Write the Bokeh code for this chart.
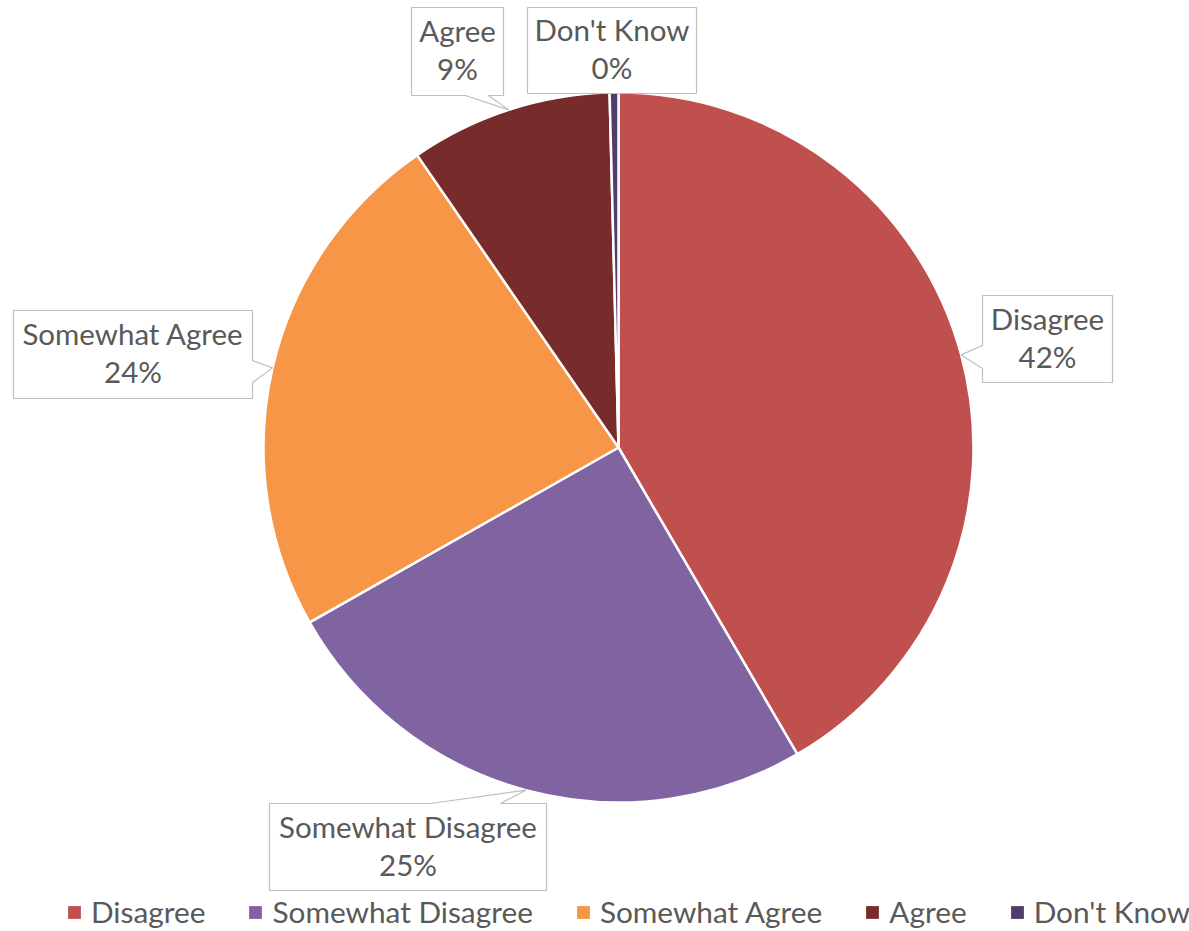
import math
from bokeh.plotting import figure
from bokeh.models import ColumnDataSource, Range1d, Legend, LegendItem
from bokeh.core.properties import value
from bokeh.embed import file_html
from bokeh.resources import INLINE

# ---------------- data ----------------
categories = ["Disagree", "Somewhat Disagree", "Somewhat Agree", "Agree", "Don't Know"]
shares = [41.6, 25.2, 23.6, 9.2, 0.4]
colors = ["#C0504D", "#8064A2", "#F79646", "#772B2B", "#4F3E6B"]

# ---------------- layout (pixel coordinates, y down) ----------------
W, H = 1189, 931
CX, CY, R = 618, 447, 355
FONT = "Lato"
FSIZE = "29.5px"
LFSIZE = "29.8px"
TXT = "#595959"

# callout boxes: (left, top, right, bottom), pointer edge, pointer base span
callouts = {
    "Disagree": ((982, 295, 1112, 382), "left", (345, 368)),
    "Somewhat Disagree": ((269, 803, 546, 890), "top", (430, 500)),
    "Somewhat Agree": ((13, 310, 252, 398), "right", (360, 382)),
    "Agree": ((411, 7, 503, 95), "bottom", (465, 488)),
    "Don't Know": ((527, 7, 696, 93), None, None),
}


def Y(py):
    return H - py


total = sum(shares)
starts, ends, mids = [], [], []
cum = 0.0
for s in shares:
    a0 = math.pi / 2 - 2 * math.pi * cum / total
    cum += s
    a1 = math.pi / 2 - 2 * math.pi * cum / total
    starts.append(a0)
    ends.append(a1)
    mids.append((a0 + a1) / 2)

p = figure(width=W, height=H, x_range=Range1d(0, W), y_range=Range1d(0, H),
           output_backend="svg", toolbar_location=None, min_border=0,
           x_axis_type=None, y_axis_type=None, outline_line_color=None,
           background_fill_color="white", border_fill_color="white")
p.grid.visible = False

src = ColumnDataSource(dict(cat=categories, start=starts, end=ends, color=colors))
p.wedge(x=CX, y=Y(CY), radius=R, start_angle="start", end_angle="end",
        direction="clock", fill_color="color", line_color="white",
        line_width=2.5, source=src)

# callouts
xs_list, ys_list = [], []
t1x, t1y, t1 = [], [], []
t2y, t2 = [], []
for cat, s, mid in zip(categories, shares, mids):
    (l, t, r, b), edge, base = callouts[cat]
    tipx = CX + R * math.cos(mid)
    tipy = Y(CY) + R * math.sin(mid)
    pts = [(l, Y(t))]
    if edge == "top":
        pts += [(base[0], Y(t)), (tipx, tipy), (base[1], Y(t))]
    pts += [(r, Y(t))]
    if edge == "right":
        pts += [(r, Y(base[0])), (tipx, tipy), (r, Y(base[1]))]
    pts += [(r, Y(b))]
    if edge == "bottom":
        pts += [(base[1], Y(b)), (tipx, tipy), (base[0], Y(b))]
    pts += [(l, Y(b))]
    if edge == "left":
        pts += [(l, Y(base[1])), (tipx, tipy), (l, Y(base[0]))]
    xs_list.append([q[0] for q in pts])
    ys_list.append([q[1] for q in pts])
    cx = (l + r) / 2
    cy = (t + b) / 2
    t1x.append(cx)
    t1y.append(Y(cy - 21))
    t1.append(cat)
    t2y.append(Y(cy + 17))
    t2.append(f"{round(s / total * 100)}%")

p.patches(xs=xs_list, ys=ys_list, fill_color="white", line_color="#BFBFBF",
          line_width=1.2)
p.text(x=t1x, y=t1y, text=t1, text_align="center", text_baseline="alphabetic",
       text_font=value(FONT), text_font_size=FSIZE, text_color=TXT)
p.text(x=t1x, y=t2y, text=t2, text_align="center", text_baseline="alphabetic",
       text_font=value(FONT), text_font_size=FSIZE, text_color=TXT)

# legend (one off-canvas dummy quad per category so the legend swatch is drawn)
items = []
for cat, c in zip(categories, colors):
    rr = p.quad(left=[-50], right=[-40], top=[-40], bottom=[-50],
                fill_color=c, line_color=None)
    items.append(LegendItem(label=cat, renderers=[rr]))
legend = Legend(items=items, orientation="horizontal", location=(66, 2),
                glyph_width=16, glyph_height=16, label_standoff=9, spacing=42,
                padding=0, margin=0, border_line_color=None,
                background_fill_alpha=0, label_text_font=FONT,
                label_text_font_size=LFSIZE, label_text_color=TXT)
p.add_layout(legend, "center")

open("out.html", "w").write(file_html(p, INLINE))
